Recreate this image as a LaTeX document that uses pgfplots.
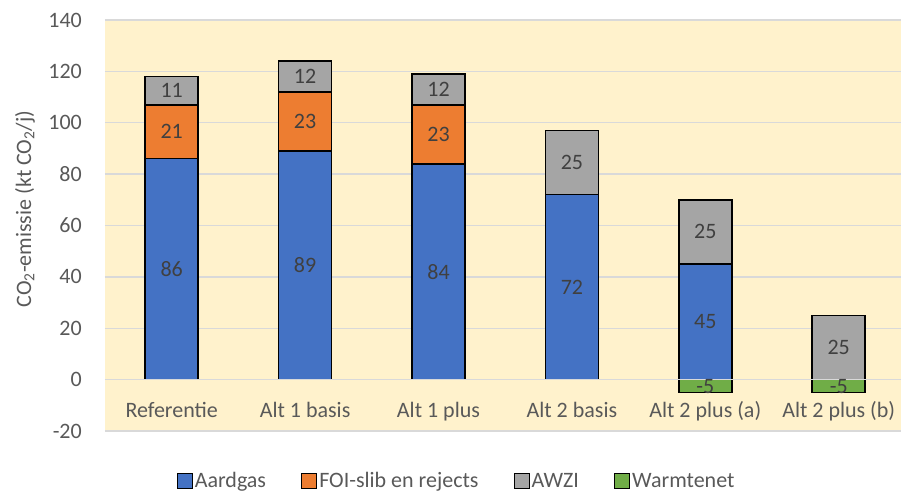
\documentclass[border=0pt]{standalone}
\usepackage{fontspec}
\setmainfont{Carlito}
\usepackage{pgfplots}
\pgfplotsset{compat=1.18}
\definecolor{cAard}{HTML}{4472C4}
\definecolor{cFOI}{HTML}{ED7D31}
\definecolor{cAWZI}{HTML}{A5A5A5}
\definecolor{cWarm}{HTML}{70AD47}
\definecolor{bgyellow}{HTML}{FFF2CC}
\definecolor{gridgray}{HTML}{D9D9D9}
\definecolor{ticktext}{HTML}{595959}
\definecolor{labtext}{HTML}{404040}
\newcommand{\chartfont}{\fontsize{22bp}{26bp}\selectfont}
\pgfplotsset{
  common/.style={
    scale only axis, width=796bp, height=411bp,
    at={(0,0)}, anchor=south west,
    xmin=-0.5, xmax=5.467, ymin=-20, ymax=140,
    bar width=53bp,
  },
  legsq/.style={legend image code/.code={\draw[##1, draw=black, line width=1.2bp] (0bp,-7.5bp) rectangle (15bp,7.5bp);}},
}
\begin{document}
\begin{tikzpicture}
\begin{axis}[
  common,
  ybar stacked,
  legsq,
  axis background/.style={fill=bgyellow},
  axis line style={draw=none},
  major tick length=0pt,
  ytick={-20,0,20,40,60,80,100,120,140},
  xtick={0,1,2,3,4,5},
  xticklabels={Referentie, Alt 1 basis, Alt 1 plus, Alt 2 basis, Alt 2 plus (a), Alt 2 plus (b)},
  /pgf/number format/assume math mode=true,
  tick label style={font=\chartfont, text=ticktext},
  yticklabel style={anchor=east, inner xsep=0pt, xshift=-23bp},
  xticklabel style={anchor=base, yshift=14bp},
  ymajorgrids,
  grid style={line width=1.5bp, gridgray},
  ylabel={CO\textsubscript{2}-emissie (kt CO\textsubscript{2}/j)},
  ylabel style={font=\chartfont, text=ticktext, at={(axis description cs:-0.1005,0.54)}, anchor=center},
  legend columns=4,
  legend style={draw=none, fill=none, font=\chartfont, text=ticktext,
    at={(axis description cs:0.4416,-0.1217)}, anchor=center,
    /tikz/every even column/.append style={column sep=33bp}},
]
\addplot[fill=cAard, draw=black, line width=1.5bp] coordinates {(0,86) (1,89) (2,84) (3,72) (4,45) (5,0)};
\addlegendentry{Aardgas}
\addplot[fill=cFOI, draw=black, line width=1.5bp] coordinates {(0,21) (1,23) (2,23) (3,0) (4,0) (5,0)};
\addlegendentry{FOI-slib en rejects}
\addplot[fill=cAWZI, draw=black, line width=1.5bp] coordinates {(0,11) (1,12) (2,12) (3,25) (4,25) (5,25)};
\addlegendentry{AWZI}
\addlegendimage{fill=cWarm}
\addlegendentry{Warmtenet}
\end{axis}
\begin{axis}[
  common,
  ybar, bar shift=0pt,
  hide axis,
]
\addplot[fill=cWarm, draw=black, line width=1.5bp] coordinates {(4,-5) (5,-5)};
\addplot[sharp plot, draw=none, mark=none, nodes near coords, point meta=explicit symbolic,
  nodes near coords align=center,
  every node near coord/.append style={font=\chartfont, text=labtext, anchor=center}]
  coordinates {
  (0,43)[86] (0,96.5)[21] (0,112.5)[11]
  (1,44.5)[89] (1,100.5)[23] (1,118)[12]
  (2,42)[84] (2,95.5)[23] (2,113)[12]
  (3,36)[72] (3,84.5)[25]
  (4,22.5)[45] (4,57.5)[25] (4,-2.5)[-5]
  (5,12.5)[25] (5,-2.5)[-5]
  };
\addplot[sharp plot, mark=none, gridgray, line width=1.5bp] coordinates {(-0.5,0) (5.467,0)};
\end{axis}
\pgfresetboundingbox
\path[use as bounding box] (-105bp,-62bp) rectangle (796bp,431bp);
\end{tikzpicture}
\end{document}
